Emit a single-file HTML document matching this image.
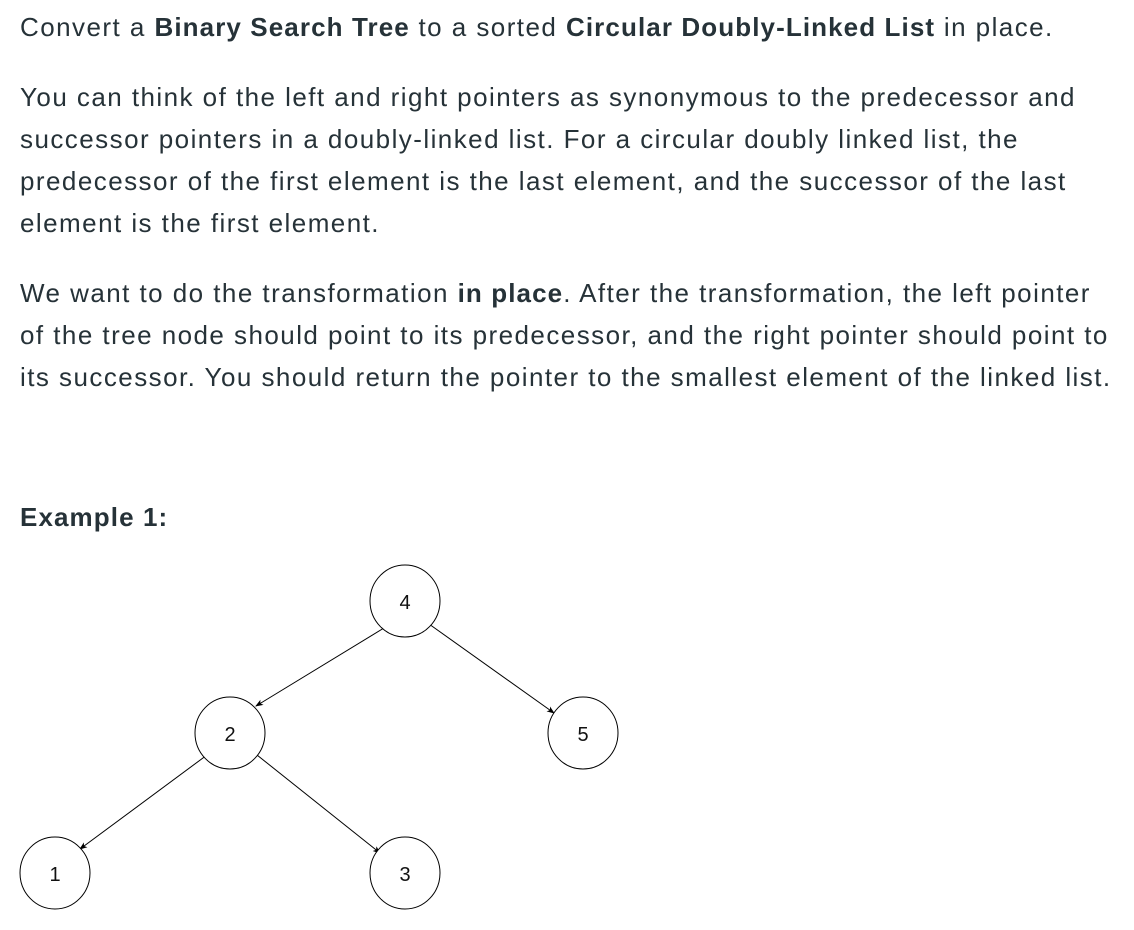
<!DOCTYPE html>
<html><head><meta charset="utf-8"><style>
body{margin:0;width:1134px;height:930px;background:#fff;overflow:hidden;font-family:"Liberation Sans",sans-serif;color:#263238;}
.l{position:absolute;left:20px;font-size:26px;letter-spacing:1.45px;white-space:nowrap;line-height:30px;}
b{font-weight:bold;letter-spacing:1.1px;}
</style></head><body>
<div class="l" style="top:12px">Convert a <b>Binary Search Tree</b> to a sorted <b>Circular Doubly-Linked List</b> in place.</div>
<div class="l" style="top:82px">You can think of the left and right pointers as synonymous to the predecessor and</div>
<div class="l" style="top:124px">successor pointers in a doubly-linked list. For a circular doubly linked list, the</div>
<div class="l" style="top:166px">predecessor of the first element is the last element, and the successor of the last</div>
<div class="l" style="top:208px">element is the first element.</div>
<div class="l" style="top:278px">We want to do the transformation <b>in place</b>. After the transformation, the left pointer</div>
<div class="l" style="top:320px">of the tree node should point to its predecessor, and the right pointer should point to</div>
<div class="l" style="top:362px">its successor. You should return the pointer to the smallest element of the linked list.</div>
<div class="l" style="top:502px"><b>Example 1:</b></div>
<svg style="position:absolute;left:0;top:0" width="1134" height="930">
<defs><marker id="a" markerWidth="8" markerHeight="8" refX="7" refY="4" orient="auto" markerUnits="userSpaceOnUse"><path d="M0,1 L8,4 L0,7 L2,4 z" fill="#000"/></marker></defs>
<g stroke="#000" stroke-width="1" fill="none">
<line x1="384" y1="628" x2="256" y2="706" marker-end="url(#a)"/>
<line x1="429" y1="624" x2="554" y2="713" marker-end="url(#a)"/>
<line x1="207" y1="755" x2="80" y2="849" marker-end="url(#a)"/>
<line x1="257" y1="755" x2="380" y2="853" marker-end="url(#a)"/>
<g fill="#fff">
<ellipse cx="405" cy="601" rx="35" ry="36"/>
<ellipse cx="230" cy="733" rx="35" ry="36"/>
<ellipse cx="583" cy="733" rx="35" ry="36"/>
<ellipse cx="55" cy="873" rx="35" ry="36"/>
<ellipse cx="405" cy="873" rx="35" ry="36"/>
</g></g>
<g font-family="Liberation Sans,sans-serif" font-size="20" fill="#111" text-anchor="middle">
<text x="405" y="609">4</text><text x="230" y="741">2</text><text x="583" y="741">5</text><text x="55" y="881">1</text><text x="405" y="881">3</text>
</g></svg>
</body></html>
